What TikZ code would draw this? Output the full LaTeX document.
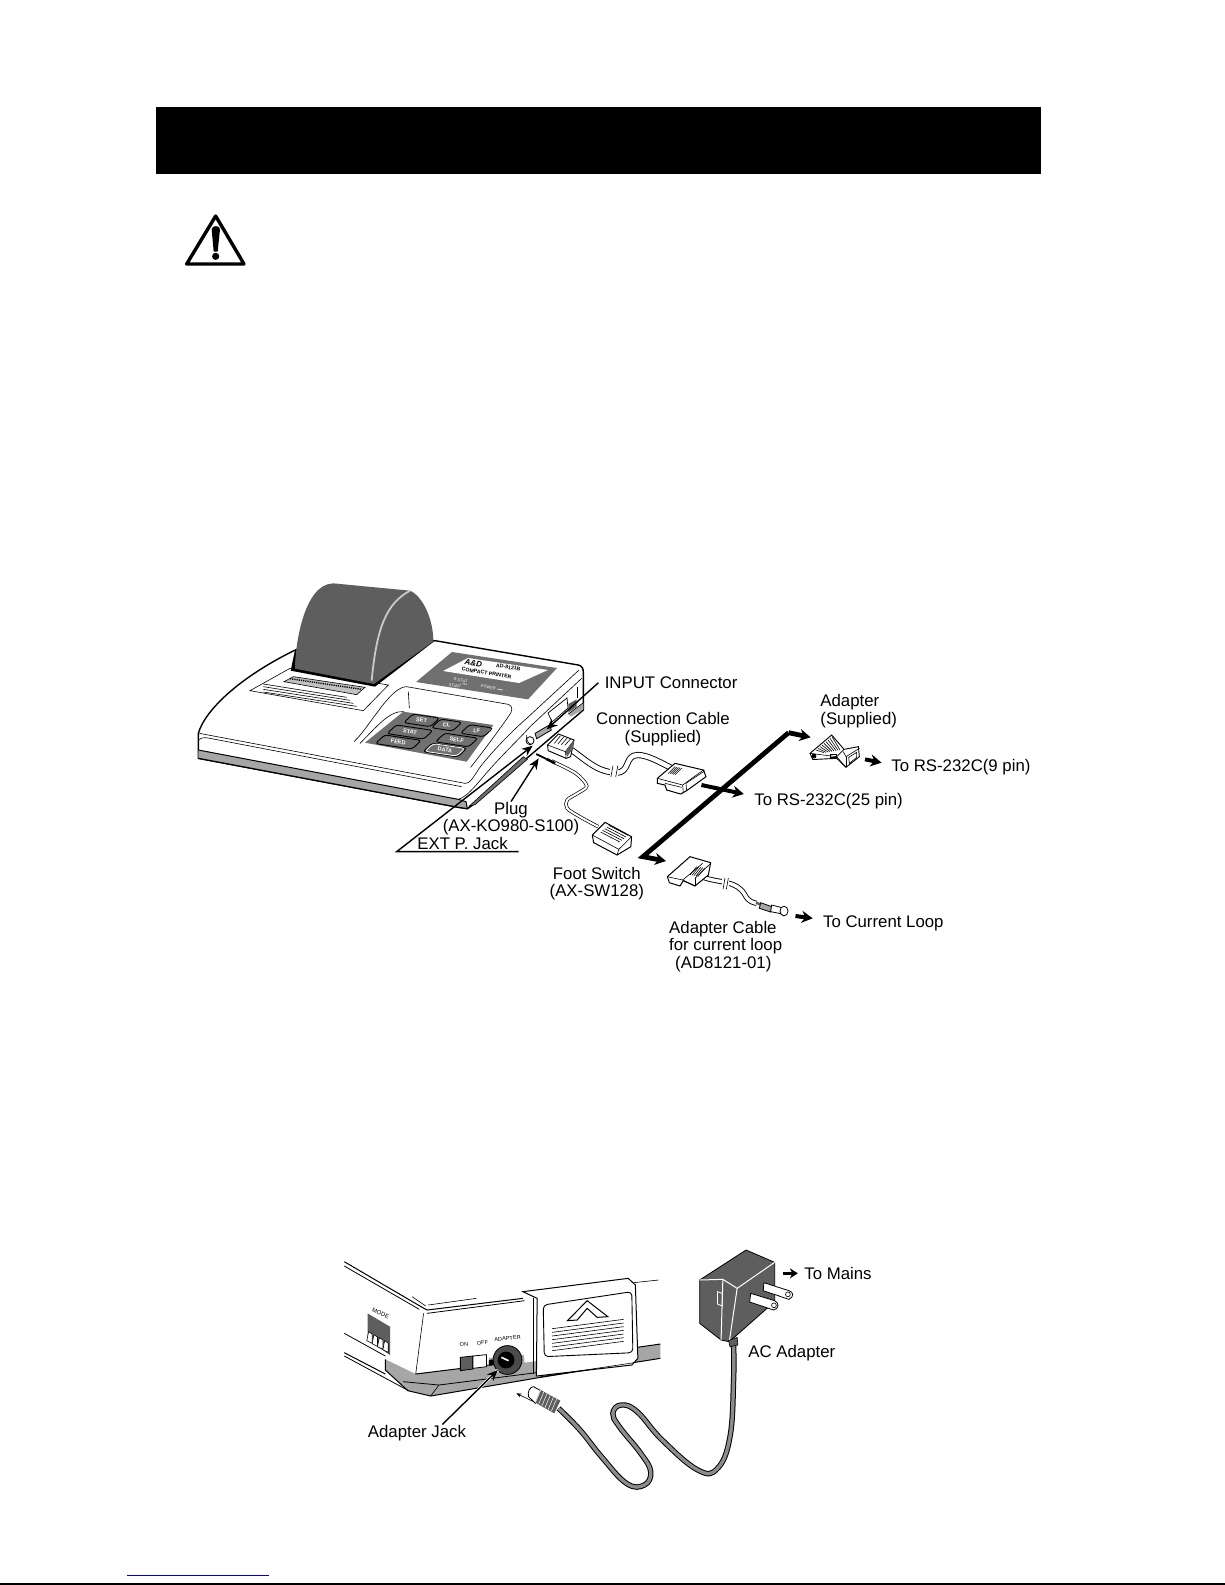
\documentclass[tikz,border=0pt]{standalone}
\usepackage{fontspec}
\setmainfont{Liberation Sans}
\usepackage{xcolor}
\usetikzlibrary{calc,arrows.meta}
\definecolor{cover}{HTML}{5E5E5E}
\definecolor{panel}{HTML}{707070}
\definecolor{band}{HTML}{A6A6A6}
\definecolor{cablegray}{HTML}{8C8C8C}
\definecolor{linkblue}{HTML}{0000CC}
\tikzset{
  lbl/.style={inner sep=0pt,font=\fontsize{8.4}{8.7}\selectfont},
  tiny/.style={inner sep=0pt,font=\fontsize{3}{3}\selectfont},
  keytext/.style={inner sep=0pt,text=white,font=\fontsize{2.8}{3}\bfseries\selectfont,rotate=-9},
  keyline/.style={draw=black,line width=.45pt,rounded corners=1.5pt},
  leader/.style={line width=.7pt,-{Stealth[length=5.5pt,width=4.5pt]}},
  bigarrow/.style={line width=2pt,-{Stealth[length=5.5pt,width=6pt]}},
  outline/.style={draw=black,line width=.5pt,fill=white},
  thinline/.style={line width=.3pt},
  wcable/.style={draw=black,line width=.45pt,double=white,double distance=2.2pt},
  fcable/.style={draw=black,line width=.35pt,double=white,double distance=1pt},
  gcable/.style={draw=black,line width=.5pt,double=cablegray,double distance=1.7pt},
  zoneA/.style={shift={(180,570)},x=.16667pt,y=-.16667pt},
  zoneB/.style={shift={(500,660)},x=.17218pt,y=-.16667pt},
  zoneC/.style={shift={(640,720)},x=.16667pt,y=-.16667pt},
  zoneD/.style={shift={(330,1230)},x=.17857pt,y=-.16667pt},
  zoneE/.style={shift={(140,90)},x=.16667pt,y=-.16667pt},
}
\newcommand{\CableBreak}[4]{%
  \fill[white] ({#1-5},{#2-18}) -- ({#1+#3+5},{#2-18+#4}) -- ({#1+#3+5},{#2+18+#4}) -- ({#1-5},{#2+18}) -- cycle;
  \draw[thinline] ({#1+3},{#2-18}) -- ({#1-3},{#2+16});
  \draw[thinline] ({#1+#3+3},{#2-18+#4}) -- ({#1+#3-3},{#2+16+#4});
}
\begin{document}
\begin{tikzpicture}[x=.5pt,y=-.5pt]
  \useasboundingbox (0,0) rectangle (1225,1585);
  \fill[white] (0,0) rectangle (1225,1585);
  \fill[black] (156,107) rectangle (1041,174);
  \draw[line width=.8pt] (0,1584) -- (1225,1584);
  \draw[linkblue,line width=.5pt] (127,1575) -- (269,1575);

  \begin{scope}[zoneE]
    \draw[line width=1.7pt,line join=round] (227,378) -- (312,522) -- (140,522) -- cycle;
    \fill[black] (215,418) .. controls (215,405) and (240,405) .. (240,418) -- (233,485) -- (221,485) -- cycle;
    \fill[black] (227,499) circle (1.8pt);
  \end{scope}

  \begin{scope}[zoneA]
    \draw[outline,line width=.7pt] (55,540) -- (55,490) .. controls (75,420) and (180,320) .. (350,238) -- (765,212) -- (1195,285) .. controls (1207,288) and (1210,295) .. (1210,310) -- (1210,420) -- (1040,565) -- (885,700) -- (862,716) -- (835,712) -- (55,565) -- cycle;
    \fill[band] (55,540) -- (55,565) -- (835,712) -- (862,716) -- (858,695) -- (835,688) -- cycle;
    \draw[line width=.6pt] (55,565) -- (835,712) -- (862,716) -- (885,700);
    \draw[line width=.5pt] (55,540) -- (835,688) -- (858,695) -- (862,716);
    \fill[panel] (868,708) -- (1030,560) -- (1042,568) -- (885,704) -- cycle;
    \draw[thinline] (868,708) -- (1030,560) -- (1042,568) -- (885,704) -- cycle;
    \fill[band] (1165,432) -- (1210,398) -- (1210,418) -- (1172,440) -- cycle;
    \draw[thinline] (1165,432) -- (1210,398);
    \draw[thinline] (58,490) -- (855,640) .. controls (875,640) and (885,610) .. (905,585) .. controls (950,530) and (1000,480) .. (1040,445) -- (1197,300);
    \draw[thinline] (835,688) .. controls (860,680) and (880,655) .. (910,620) .. controls (960,560) and (1020,505) .. (1050,470) -- (1205,325);
    \draw[thinline] (58,510) .. controls (60,505) and (70,500) .. (90,505) -- (845,650);
    % paper exit
    \draw[thinline] (210,362) -- (330,295) -- (625,345) -- (550,422) -- cycle;
    \fill[band!70!white] (312,335) -- (340,320) -- (555,352) -- (530,374) -- cycle;
    \draw[thinline] (312,335) -- (340,320) -- (555,352) -- (530,374) -- cycle;
    \draw[line width=.7pt,dash pattern=on .6pt off .5pt] (330,326) -- (545,358);
    \foreach \ly in {0,1,2,3}
      \draw[thinline] (250,{342+\ly*8}) -- ({500+\ly*10},{382+\ly*9});
    % cover
    \fill[black] (332,302) -- (345,240) -- (765,212) -- (585,350) -- cycle;
    \fill[cover] (345,296) .. controls (345,230) and (370,42) .. (460,40) -- (690,62) .. controls (730,80) and (760,150) .. (760,214) -- (582,342) -- cycle;
    \draw[line width=.9pt,band!60!white] (690,62) .. controls (620,100) and (590,170) .. (575,332);
    % display panel
    \fill[panel] (708,336) -- (816,246) -- (1131,294) -- (1044,388) -- cycle;
    \fill[white] (789,303) -- (864,264) -- (1104,300) -- (1017,339) -- cycle;
    \node[inner sep=0pt,rotate=-9,font=\fontsize{4}{4}\bfseries\itshape\selectfont] (logo) at (880,279) {A\&D};
    \node[tiny,rotate=-9,font=\fontsize{2.6}{3}\bfseries\selectfont] (model) at (985,292) {AD-8121B};
    \node[tiny,rotate=-9,font=\fontsize{2.6}{3}\bfseries\selectfont] (compact) at (920,309) {COMPACT PRINTER};
    \node[tiny,text=white,rotate=-9,font=\fontsize{2}{2}\selectfont] (rstat) at (842,331) {R.STAT};
    \node[tiny,text=white,rotate=-9,font=\fontsize{2}{2}\selectfont] (start) at (825,348) {START};
    \node[tiny,text=white,rotate=-9,font=\fontsize{2}{2}\selectfont] (power) at (925,352) {POWER};
    \draw[white,thinline] (848,341) -- (861,343);
    \draw[white,thinline] (952,357) -- (968,360);
    % keypad well
    \draw[thinline] (522,515) .. controls (570,470) and (630,350) .. (680,350) -- (985,403) .. controls (1000,408) and (998,425) .. (985,440) .. controls (950,490) and (905,550) .. (872,592);
    \draw[thinline] (540,520) .. controls (590,470) and (630,420) .. (672,425);
    \draw[thinline] (685,365) -- (688,415);
    \fill[panel] (555,518) -- (670,425) -- (940,465) -- (860,575) -- cycle;
    \foreach \kx/\ky/\kw/\klabel in {725/451/40/SET,800/465/32/CL,890/482/35/LF,690/486/55/STAT,830/510/50/SELF,655/516/55/FEED,795/540/52/DATA}{
      \draw[keyline] ({\kx-\kw-14},{\ky+13-.15*\kw}) -- ({\kx+\kw-14},{\ky+13+.15*\kw}) -- ({\kx+\kw+14},{\ky-13+.15*\kw}) -- ({\kx-\kw+14},{\ky-13-.15*\kw}) -- cycle;
      \node[keytext] (key\klabel) at (\kx,\ky) {\klabel};
    }
    \draw[white,line width=.4pt,rounded corners=1.5pt] (735,544) -- (830,558) -- (855,535) -- (760,521) -- cycle;
    % side of the case
    \draw[outline,line width=.35pt] (1104,429) -- (1161,384) -- (1164,414) -- (1116,456) -- cycle;
    \fill[cover] (1165,402) -- (1190,388) -- (1190,410) -- (1165,428) -- cycle;
    \draw[thinline] (1192,352) -- (1192,385);
    \draw[outline,line width=.4pt,fill=band] (1065,490) -- (1108,465) -- (1114,480) -- (1070,506) -- cycle;
    \draw[line width=.4pt] (1050,512) circle (2pt);
    \draw[thinline] (1040,495) .. controls (1038,505) and (1042,520) .. (1052,522);
    \coordinate (inputtip) at (1100,478);
    \coordinate (jacktip) at (1058,527);
    \coordinate (plugtip) at (1076,565);
    \coordinate (extleft) at (650,845);
    \coordinate (extright) at (1016,845);
  \end{scope}

  \begin{scope}[zoneB]
    % connection cable and RJ plug
    \draw[wcable] (205,268) .. controls (250,300) and (280,335) .. (335,338) .. controls (380,340) and (360,285) .. (400,285) .. controls (430,285) and (470,310) .. (500,325);
    \CableBreak{325}{335}{14}{0}
    \draw[outline,line width=.45pt] (138,255) -- (170,222) -- (215,240) -- (205,290) -- (192,295) -- (140,272) -- cycle;
    \draw[thinline] (138,255) -- (190,275) -- (215,240);
    \draw[thinline] (190,275) -- (192,295);
    \foreach \hx in {0,1,2,3}
      \draw[thinline] ({158+\hx*10},{250+\hx*2}) -- ({175+\hx*10},{228+\hx*3});
    \fill[cover] (190,275) -- (215,240) -- (212,265) -- (195,290) -- cycle;
    % foot switch and its cable
    \draw[fcable] plot[smooth] coordinates {(150,303) (220,340) (252,378) (225,400) (195,420) (195,445) (235,472) (285,500)};
    \draw[line width=.9pt] (105,282) -- (135,297);
    \draw[line width=1.3pt] (135,297) -- (160,310);
    \draw[outline,line width=.5pt] (268,525) -- (305,487) -- (382,530) -- (380,560) -- (340,585) -- (272,548) -- cycle;
    \draw[thinline] (268,525) -- (345,568) -- (382,530);
    \draw[thinline] (345,568) -- (340,585);
    \foreach \hx in {0,1,2,3,4}
      \draw[thinline] ({292+\hx*6},{516-\hx*5}) -- ({348+\hx*6},{546-\hx*5});
    % thick arrows
    \coordinate (busbend) at (838,218);
    \coordinate (buslow) at (415,590);
    \draw[bigarrow,line width=2.4pt] (busbend) -- (902,232);
    \draw[bigarrow,line width=2.4pt] (busbend) -- (buslow) -- (482,603);
    \draw[bigarrow] (585,375) -- (708,402);
    \draw[bigarrow] (1060,298) -- (1108,308);
    \draw[bigarrow] (858,768) -- (908,775);
  \end{scope}

  \begin{scope}[zoneC]
    % 25 pin connector
    \draw[outline] (52,175) -- (105,130) -- (190,150) -- (198,170) -- (140,212) -- (122,222) -- (80,210) -- (75,195) -- (52,190) -- cycle;
    \draw[thinline] (52,175) -- (128,195) -- (190,150);
    \draw[thinline] (128,195) -- (130,220);
    \draw[thinline] (75,190) -- (125,202);
    \draw[thinline] (140,212) -- (138,190) -- (195,152);
    \foreach \hx in {0,1,2,3,4}
      \draw[thinline] ({85+\hx*5},{160+\hx*1}) -- ({105+\hx*5},{140+\hx*1});
    % 9 pin adapter
    \draw[outline,line width=.45pt] (510,100) -- (575,45) -- (612,88) -- (655,80) -- (658,110) -- (618,142) -- (590,115) -- (530,118) -- (518,118) -- cycle;
    \foreach \hx in {0,1,...,8}
      \draw[thinline] ({528+\hx*6},{90-\hx*5}) -- ({552+\hx*6},{98-\hx*1});
    \draw[thinline] (510,100) -- (590,110) -- (612,88);
    \draw[thinline] (590,110) -- (618,142);
    \draw[thinline] (610,95) -- (618,110) -- (658,85);
    \draw[thinline] (618,110) -- (618,142);
    \draw[outline,line width=.3pt] (626,112) -- (650,97) -- (650,112) -- (628,130) -- cycle;
    \draw[thinline] (572,102) rectangle (590,112);
    \fill[black] (522,108) circle (1.2pt);
    % adapter cable for current loop
    \draw[wcable,double distance=1.7pt] (190,472) .. controls (240,490) and (290,480) .. (315,525) .. controls (325,545) and (340,548) .. (350,550);
    \CableBreak{252}{492}{10}{0}
    \draw[outline] (82,470) -- (150,410) -- (212,428) -- (205,465) -- (165,498) -- (130,482) -- (120,498) -- (88,488) -- cycle;
    \draw[thinline] (82,470) -- (128,480) -- (165,498);
    \draw[thinline] (128,480) -- (188,430);
    \draw[thinline] (165,475) -- (212,430);
    \draw[thinline] (165,475) -- (165,498);
    \foreach \hx in {0,1,2,3,4}
      \draw[thinline] ({150+\hx*6},{465+\hx*1}) -- ({170+\hx*6},{440+\hx*1});
    \draw[line width=1.2pt,cover] (348,548) -- (368,556);
    \draw[outline,line width=.4pt,fill=band] (362,548) -- (395,560) -- (392,576) -- (358,565) -- cycle;
    \draw[outline,line width=.4pt] (395,555) -- (430,564) -- (428,582) -- (392,575) -- cycle;
    \draw[outline,line width=.4pt] (432,573) ellipse (2pt and 2.4pt);
  \end{scope}

  \begin{scope}[zoneD]
    % case corner
    \fill[band] (155,388) -- (240,432) -- (444,405) -- (446,384) -- (542,374) -- (545,398) -- (860,352) -- (925,342) -- (925,385) -- (590,442) -- (282,498) -- (218,482) -- (155,420) -- cycle;
    \draw[line width=.5pt] (40,95) -- (258,232) -- (272,240) -- (540,205);
    \draw[line width=.4pt] (40,108) -- (250,238);
    \draw[thinline] (230,200) -- (268,228);
    \draw[thinline] (275,225) -- (410,205);
    \draw[line width=.4pt] (272,250) -- (545,212);
    \draw[thinline] (850,158) -- (920,150);
    \draw[thinline] (262,250) -- (240,432);
    \draw[line width=.5pt] (240,432) -- (444,405);
    \draw[line width=.5pt] (860,352) -- (925,342);
    \draw[line width=.5pt] (925,385) -- (590,442) -- (282,498) -- (218,482) -- (155,420) -- (155,388);
    \draw[line width=.4pt] (205,455) -- (305,465) -- (600,425);
    \draw[thinline] (305,465) -- (282,498);
    \draw[line width=.4pt] (40,310) -- (155,378);
    \draw[line width=.5pt] (40,368) -- (155,432);
    \draw[line width=.4pt] (40,378) -- (220,482);
    % mode switch
    \fill[cover] (105,250) -- (168,290) -- (168,375) -- (105,330) -- cycle;
    \foreach \dx/\dy in {0/0,15/9,30/18,45/27}{
      \draw[outline,line width=.3pt] ({108+\dx},{305+\dy}) -- ({118+\dx},{312+\dy}) -- ({118+\dx},{340+\dy}) -- ({103+\dx},{332+\dy}) -- cycle;
    }
    \node[tiny,rotate=-25] (mode) at (142,250) {MODE};
    % switch and jack
    \node[tiny,rotate=5,font=\fontsize{2.8}{3}\selectfont] (on) at (375,343) {ON};
    \node[tiny,rotate=5,font=\fontsize{2.8}{3}\selectfont] (off) at (427,338) {OFF};
    \node[tiny,rotate=5,font=\fontsize{2.8}{3}\selectfont] (adapter) at (497,325) {ADAPTER};
    \draw[line width=.4pt,fill=cover] (365,382) -- (400,378) -- (400,417) -- (365,422) -- cycle;
    \draw[line width=.4pt,fill=white] (400,378) -- (438,374) -- (438,410) -- (400,415) -- cycle;
    \fill[black] (445,390) -- (460,388) -- (460,405) -- (445,408) -- cycle;
    \draw[line width=.4pt,fill=cover!80!black] (497,390) circle (7.2pt);
    \fill[black] (493,390) circle (4.2pt);
    \draw[white,line width=.8pt] (480,382) -- (500,392);
    % battery lid
    \draw[outline,line width=.5pt] (540,185) -- (835,145) -- (855,165) -- (862,385) -- (845,405) -- (578,438) -- (580,205) -- cycle;
    \draw[thinline] (570,205) -- (570,432);
    \draw[outline,line width=.45pt,rounded corners=2pt] (597,225) -- (845,185) -- (848,368) -- (600,380) -- cycle;
    \draw[thinline] (590,440) -- (852,398);
    \draw[line width=.5pt,fill=white] (665,272) -- (720,212) -- (778,260) -- (748,262) -- (720,235) -- (692,270) -- cycle;
    \foreach \ln in {0,1,2,3,4,5,6}
      \draw[thinline] (622,{296+\ln*11}) -- (822,{268+\ln*11});
    % plug and cable
    \draw[gcable] plot[smooth,tension=.7] coordinates {(640,535) (700,600) (760,680) (830,760) (880,765) (898,725) (870,670) (810,590) (792,550) (815,525) (860,545) (930,630) (1030,720) (1085,715) (1120,620) (1130,450) (1130,345)};
    \draw[outline,line width=.4pt] (570,470) -- (590,482) -- (575,520) -- (556,500) .. controls (552,485) and (560,470) .. (570,470) -- cycle;
    \fill[cover] (590,480) -- (645,512) -- (628,550) -- (575,518) -- cycle;
    \foreach \rib in {0,1,2,3,4,5}
      \draw[white,line width=.25pt] ({590+\rib*9},{480+\rib*5}) -- ({575+\rib*9},{518+\rib*5});
    \coordinate (plugend) at (522,490);
    \coordinate (plugstart) at (570,515);
    \draw[thinline,-{Stealth[length=2.5pt,width=2pt]}] (plugstart) -- (plugend);
    % wall adapter
    \fill[cover,draw=black,line width=.4pt] (1035,150) -- (1165,60) -- (1245,97) -- (1245,215) -- (1118,335) -- (1095,330) -- (1035,280) -- cycle;
    \draw[white,line width=.5pt] (1035,150) -- (1100,148) -- (1140,175) -- (1245,97);
    \draw[white,line width=.5pt] (1100,148) -- (1095,330);
    \draw[white,line width=.5pt] (1140,175) -- (1118,335);
    \draw[white,line width=.4pt] (1085,185) -- (1098,190) -- (1098,228) -- (1085,222) -- cycle;
    \draw[outline,line width=.4pt] (1215,158) -- (1285,182) .. controls (1298,186) and (1300,200) .. (1285,208) -- (1213,182) -- cycle;
    \draw[outline,line width=.4pt] (1178,190) -- (1245,212) .. controls (1258,218) and (1258,236) .. (1242,240) -- (1175,216) -- cycle;
    \draw[line width=.3pt] (1282,193) circle (1.2pt);
    \draw[line width=.3pt] (1243,226) circle (1.2pt);
    \fill[cover,draw=black,line width=.3pt] (1116,332) -- (1140,322) -- (1142,345) -- (1120,350) -- cycle;
    \coordinate (mainsstart) at (1268,130);
    \coordinate (mainsend) at (1310,130);
    \draw[bigarrow,line width=1.6pt,-{Stealth[length=4pt,width=5pt]}] (mainsstart) -- (mainsend);
    \coordinate (adaptertip) at (470,420);
  \end{scope}

  \node[lbl,anchor=west] (input) at (604.4,682.7) {INPUT Connector};
  \node[lbl,align=center] (cable) at (663,729) {Connection Cable\\(Supplied)};
  \node[lbl,align=left,anchor=west] (adaptersup) at (820,711) {Adapter\\(Supplied)};
  \node[lbl,anchor=west] (rs9) at (891,767) {To RS-232C(9 pin)};
  \node[lbl,anchor=west] (rs25) at (754,801) {To RS-232C(25 pin)};
  \node[lbl,align=center] (plug) at (511,818.5) {Plug\\(AX-KO980-S100)};
  \node[lbl,anchor=west] (ext) at (417,843) {EXT P. Jack};
  \node[lbl,align=center] (foot) at (596.8,883.5) {Foot Switch\\(AX-SW128)};
  \node[lbl,align=left,anchor=west] (adcable) at (668.8,946.5) {Adapter Cable\\for current loop\\\hspace*{3pt}(AD8121-01)};
  \node[lbl,anchor=west] (loop) at (822.7,923) {To Current Loop};
  \node[lbl,anchor=west] (mains) at (804,1273) {To Mains};
  \node[lbl,anchor=west] (acadapter) at (748,1352.7) {AC Adapter};
  \node[lbl,anchor=west] (ajack) at (367.5,1432.7) {Adapter Jack};

  \draw[leader] ([xshift=-3pt]input.west) -- (inputtip);
  \draw[leader] (plug.north) -- (plugtip);
  \draw[leader] (extright) -- (extleft) -- (jacktip);
  \draw[white,line width=1.4pt] ([xshift=-12pt]ajack.north east) -- (adaptertip);
  \draw[leader] ([xshift=-12pt]ajack.north east) -- (adaptertip);
\end{tikzpicture}
\end{document}
